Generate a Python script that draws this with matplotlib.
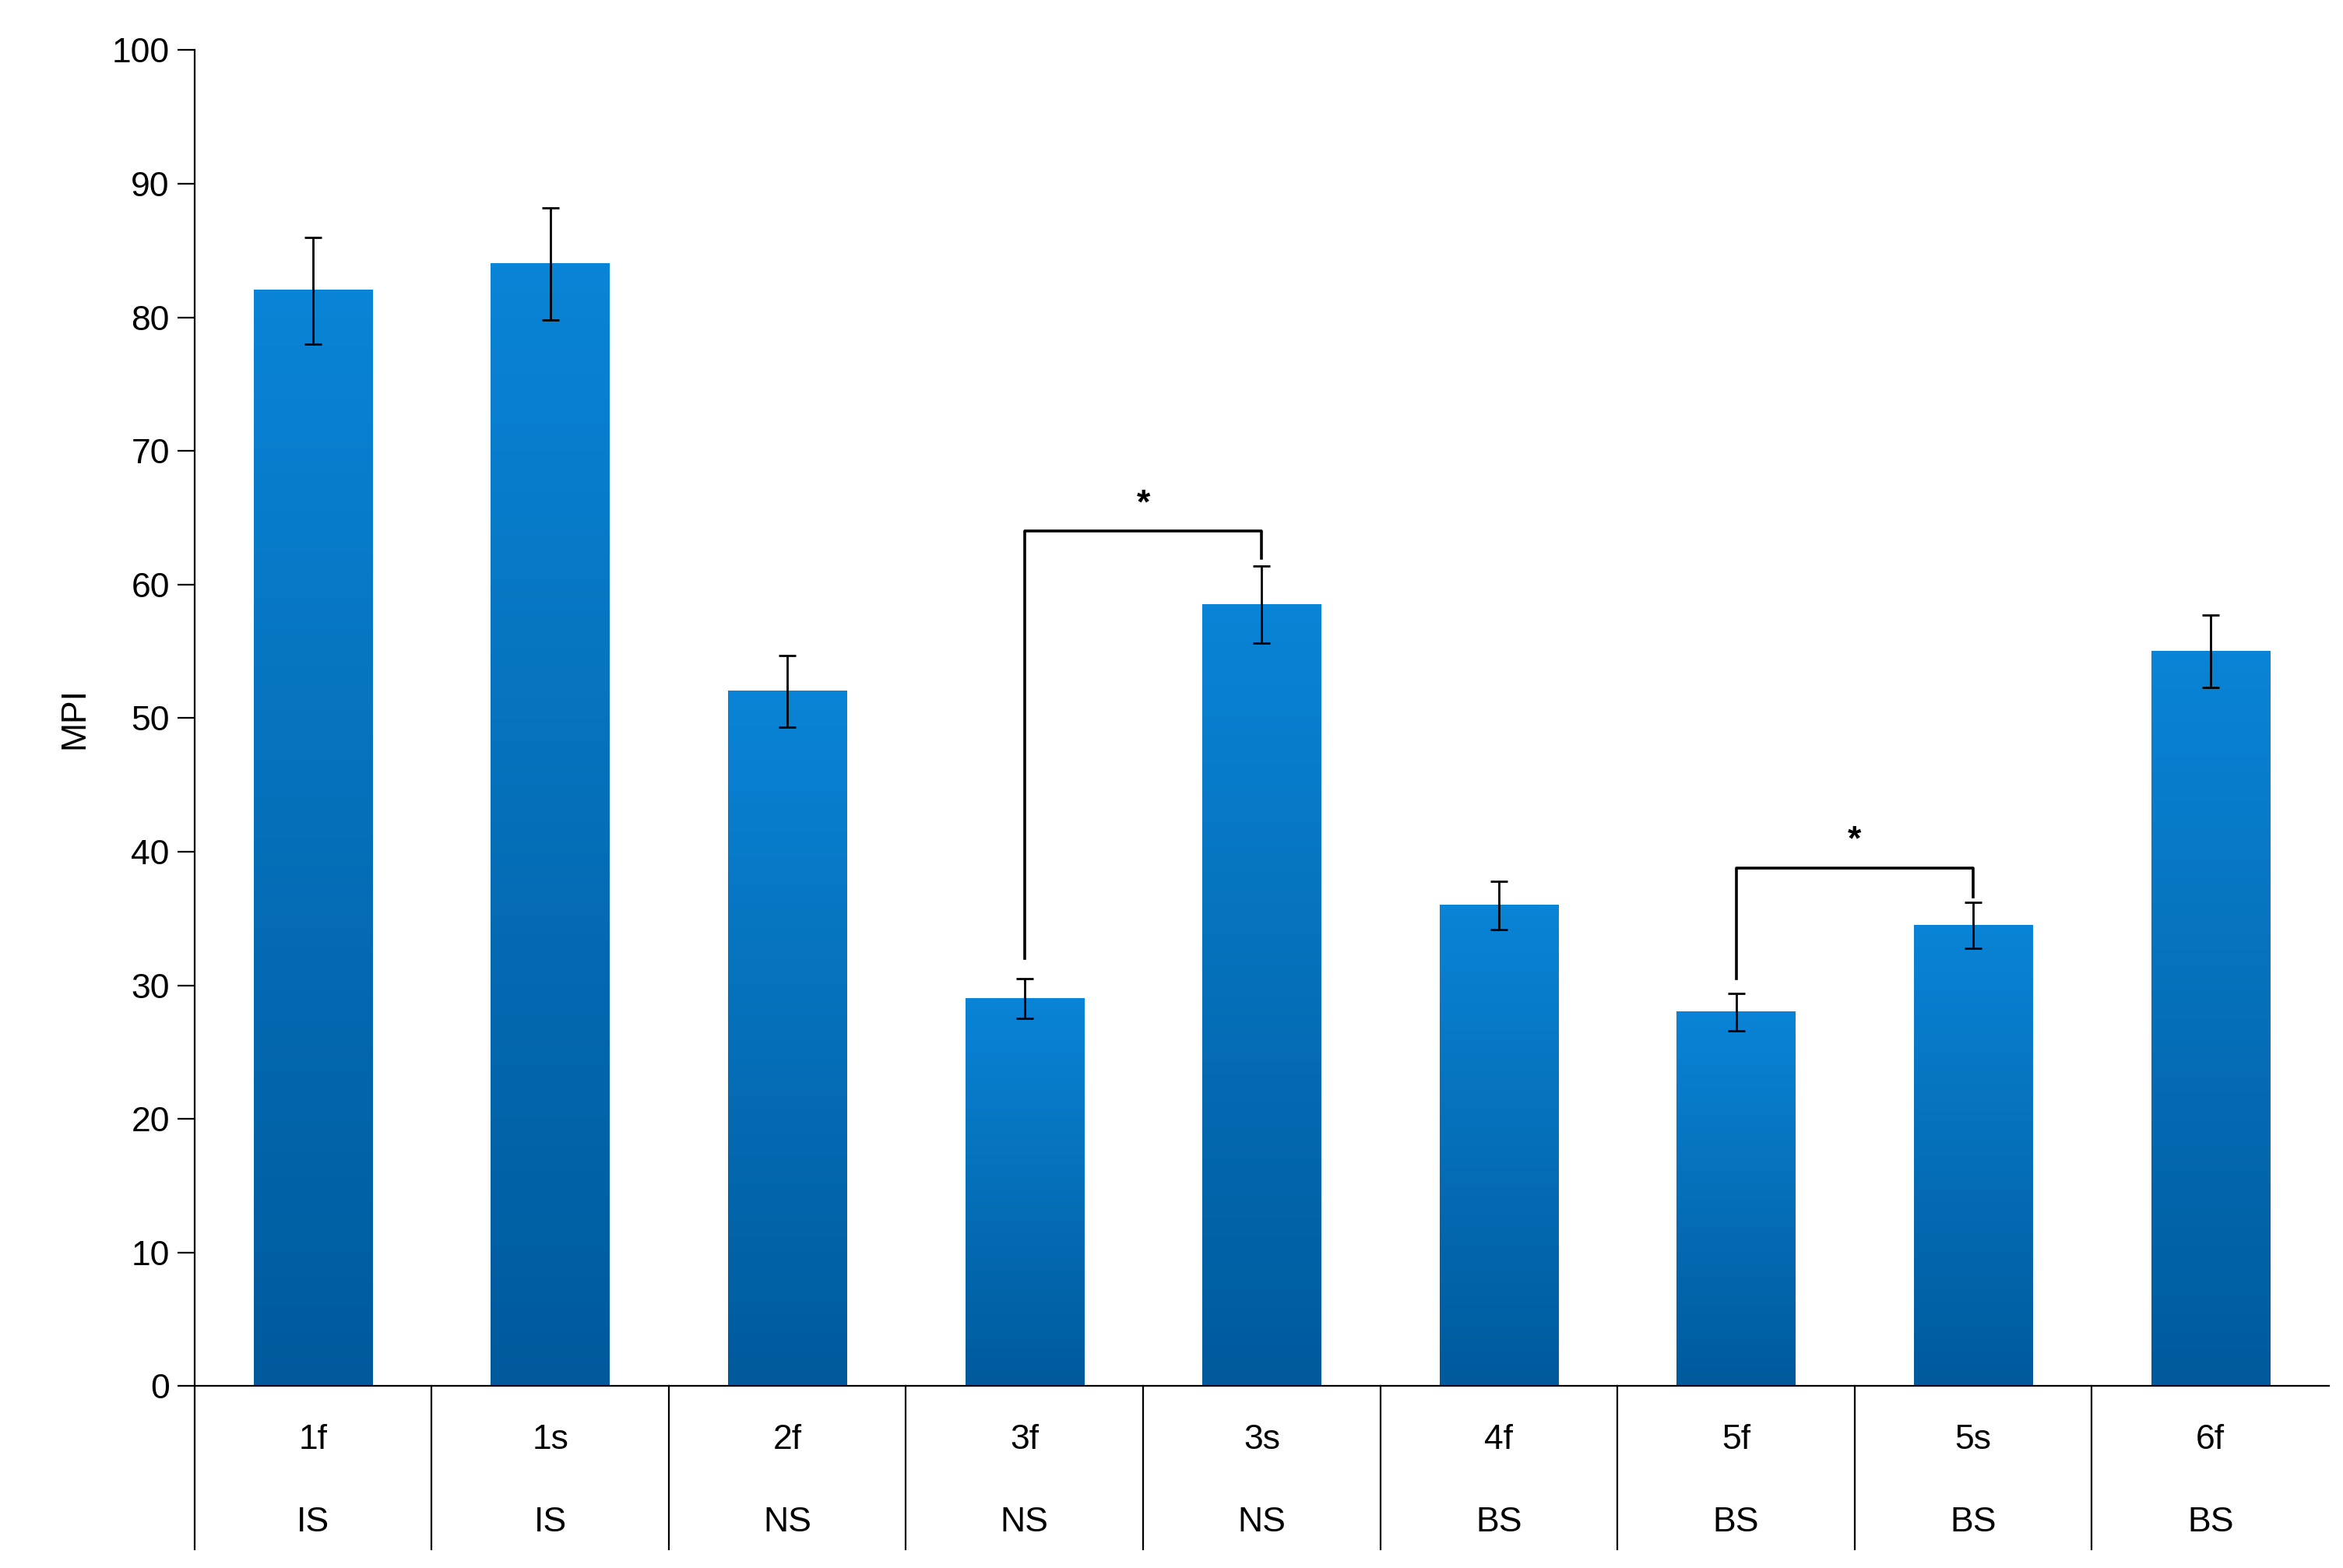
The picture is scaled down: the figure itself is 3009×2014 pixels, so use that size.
import numpy as np
import matplotlib
matplotlib.use("Agg")
import matplotlib.pyplot as plt
from matplotlib.colors import LinearSegmentedColormap

plt.rcParams["font.family"] = ["Liberation Sans", "DejaVu Sans"]

# data
groups = ["1f", "1s", "2f", "3f", "3s", "4f", "5f", "5s", "6f"]
types = ["IS", "IS", "NS", "NS", "NS", "BS", "BS", "BS", "BS"]
mpi = [82, 84, 52, 29, 58.5, 36, 28, 34.5, 55]
err = [4.0, 4.2, 2.7, 1.5, 2.9, 1.8, 1.4, 1.7, 2.7]
# significance brackets: (left index, right index, bracket height, left leg end, right leg end)
brackets = [(3, 4, 64.0, 32.0, 62.0), (6, 7, 38.8, 30.5, 36.6)]

fig = plt.figure(figsize=(15.045, 10.07), dpi=200)
ax = fig.add_axes([0.083, 0.116, 0.911, 0.852])

cmap = LinearSegmentedColormap.from_list("bar", ["#005a9c", "#0a84d6"])
grad = np.linspace(0, 1, 256).reshape(-1, 1)
w = 0.5
x = np.arange(len(groups))
for xi, v in zip(x, mpi):
    ax.imshow(grad, cmap=cmap, origin="lower", aspect="auto",
              extent=(xi - w / 2, xi + w / 2, 0, v), zorder=2)
ax.errorbar(x, mpi, yerr=err, fmt="none", ecolor="black", elinewidth=1.0,
            capsize=4, capthick=1.0, zorder=3)

for a, b, h, la, lb in brackets:
    ax.plot([a, a, b, b], [la, h, h, lb], color="black", lw=1.3, zorder=3)
    ax.text((a + b) / 2, h + 0.8, "*", ha="center", va="bottom",
            fontsize=16, fontweight="bold")

ax.set_xlim(-0.5, 8.5)
ax.set_ylim(0, 100)
ax.set_yticks(range(0, 101, 10))
ax.tick_params(axis="y", labelsize=16, direction="out", length=8)
ax.set_xticks([])
ax.set_ylabel("MPI", fontsize=16, labelpad=10)
for s in ["top", "right"]:
    ax.spines[s].set_visible(False)

# category table below the axis
trans = ax.get_xaxis_transform()
for bnd in np.arange(-0.5, 8.0, 1.0):
    ax.plot([bnd, bnd], [0, -0.122], color="black", lw=0.8,
            transform=trans, clip_on=False)
for xi, g, t in zip(x, groups, types):
    ax.text(xi, -0.04, g, transform=trans, ha="center", va="center", fontsize=16)
    ax.text(xi, -0.102, t, transform=trans, ha="center", va="center", fontsize=16)

fig.savefig("out.png", dpi=200)
